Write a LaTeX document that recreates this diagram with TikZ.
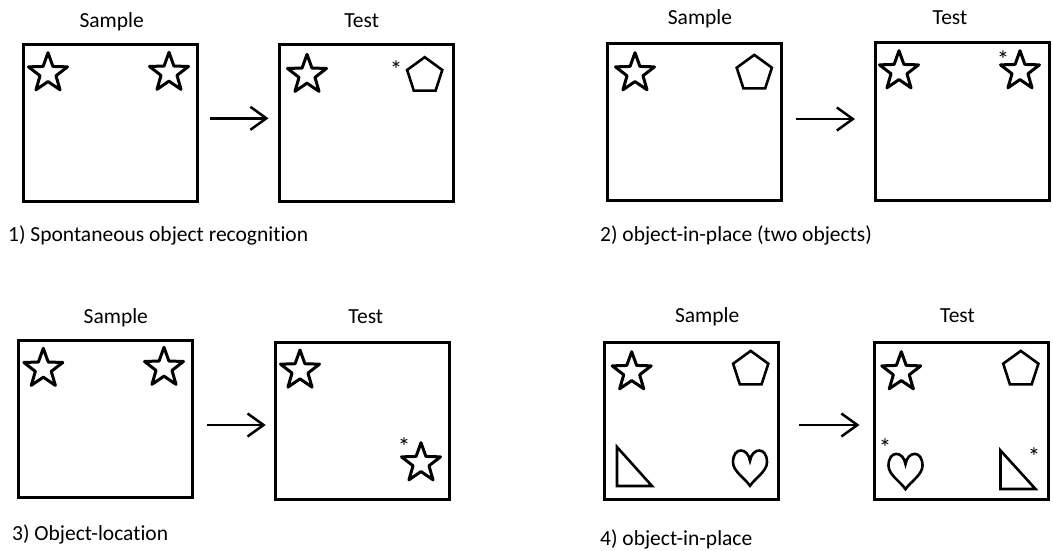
\documentclass[tikz,border=0pt]{standalone}
\usepackage{fontspec}
\setmainfont{Carlito}[Ligatures=NoCommon]
\usetikzlibrary{shapes.geometric,arrows.meta}
\begin{document}
\begin{tikzpicture}[x=1pt,y=-1pt,
  box/.style={draw, line width=3pt, inner sep=0pt, minimum width=174pt, minimum height=157pt},
  starobj/.style={draw, star, star points=5, star point ratio=2.45, minimum size=41pt, inner sep=0pt, line width=3pt, line join=round},
  pentobj/.style={draw, regular polygon, regular polygon sides=5, minimum size=37pt, inner sep=0pt, line width=2.6pt},
  ttl/.style={font=\fontsize{21.5}{25}\selectfont, anchor=base, inner sep=0pt},
  lbl/.style={font=\fontsize{21.5}{25}\selectfont, anchor=base west, inner sep=0pt},
  ast/.style={font=\fontsize{25}{28}\selectfont, anchor=base, inner sep=0pt},
  arr/.style={line width=2.5pt, -{Straight Barb[length=16pt, width=23pt]}},
  tri/.style={draw, line width=2.6pt},
  heart/.pic={\draw[line width=2.6pt] (0,-7.5) .. controls (2,-21) and (17,-22) .. (17,-6) .. controls (17,3) and (5,10) .. (0,17.5) .. controls (-5,10) and (-17,3) .. (-17,-6) .. controls (-17,-22) and (-2,-21) .. (0,-7.5) -- cycle;}
]
\useasboundingbox (0,0) rectangle (1053,551);

% ---------- Panel 1 ----------
\node[ttl] (t1s) at (111.7,27.5) {Sample};
\node[ttl] (t1t) at (361.7,27.5) {Test};
\node[box] (b1s) at (110.5,123) {};
\node[box] (b1t) at (366.5,123) {};
\draw[arr] ([xshift=10.5pt,yshift=4.7pt]b1s.east) -- ([xshift=-9.5pt,yshift=4.7pt]b1t.west);
\node[starobj] (o1a) at (48,73.2) {};
\node[starobj] (o1b) at (169,72.8) {};
\node[starobj] (o1c) at (307,74.8) {};
\node[pentobj] (o1d) at (424.7,75.7) {};
\node[ast] (a1) at (396,78) {*};
\node[lbl] (l1) at (8,241.7) {1) Spontaneous object recognition};

% ---------- Panel 2 ----------
\node[ttl] (t2s) at (700,25) {Sample};
\node[ttl] (t2t) at (950,25) {Test};
\node[box] (b2s) at (694.5,122) {};
\node[box] (b2t) at (962,121.5) {};
\draw[arr] ([xshift=12.5pt,yshift=3pt]b2s.east) -- ([xshift=-18.5pt,yshift=2.5pt]b2t.west);
\node[starobj] (o2a) at (635,73.2) {};
\node[pentobj] (o2b) at (754.3,73.4) {};
\node[starobj] (o2c) at (899,71.2) {};
\node[starobj] (o2d) at (1020,71.2) {};
\node[ast] (a2) at (1003,69) {*};
\node[lbl] (l2) at (600,241.7) {2) object-in-place (two objects)};

% ---------- Panel 3 ----------
\node[ttl] (t3s) at (115.8,323.5) {Sample};
\node[ttl] (t3t) at (365.8,323.5) {Test};
\node[box] (b3s) at (105.3,419.2) {};
\node[box] (b3t) at (362.8,420.5) {};
\draw[arr] ([xshift=12.7pt,yshift=-5.8pt]b3s.east) -- ([xshift=-8.6pt,yshift=-4.5pt]b3t.west);
\node[starobj] (o3a) at (43.3,368.8) {};
\node[starobj] (o3b) at (164,367.8) {};
\node[starobj] (o3c) at (300,370.5) {};
\node[starobj] (o3d) at (421,463.2) {};
\node[ast] (a3) at (404,455) {*};
\node[lbl] (l3) at (12,540) {3) Object-location};

% ---------- Panel 4 ----------
\node[ttl] (t4s) at (707.2,322) {Sample};
\node[ttl] (t4t) at (957.5,322) {Test};
\node[box] (b4s) at (691.3,420.8) {};
\node[box] (b4t) at (961.3,420.8) {};
\draw[arr] ([xshift=19pt,yshift=-4.2pt]b4s.east) -- ([xshift=-13.3pt,yshift=-4.2pt]b4t.west);
\node[starobj] (o4a) at (631.7,372.2) {};
\node[pentobj] (o4b) at (750.7,369.4) {};
\draw[tri] (617,447) -- (617,486) -- (652,486) -- cycle;
\pic at (750,468.3) {heart};
\node[starobj] (o4c) at (901.3,372.2) {};
\node[pentobj] (o4d) at (1020.8,369.4) {};
\pic at (905.5,471.7) {heart};
\draw[tri] (1000.5,450.5) -- (1000.5,489) -- (1035.5,489) -- cycle;
\node[ast] (a4a) at (885,456) {*};
\node[ast] (a4b) at (1034,465) {*};
\node[lbl] (l4) at (600,545) {4) object-in-place};
\end{tikzpicture}
\end{document}
